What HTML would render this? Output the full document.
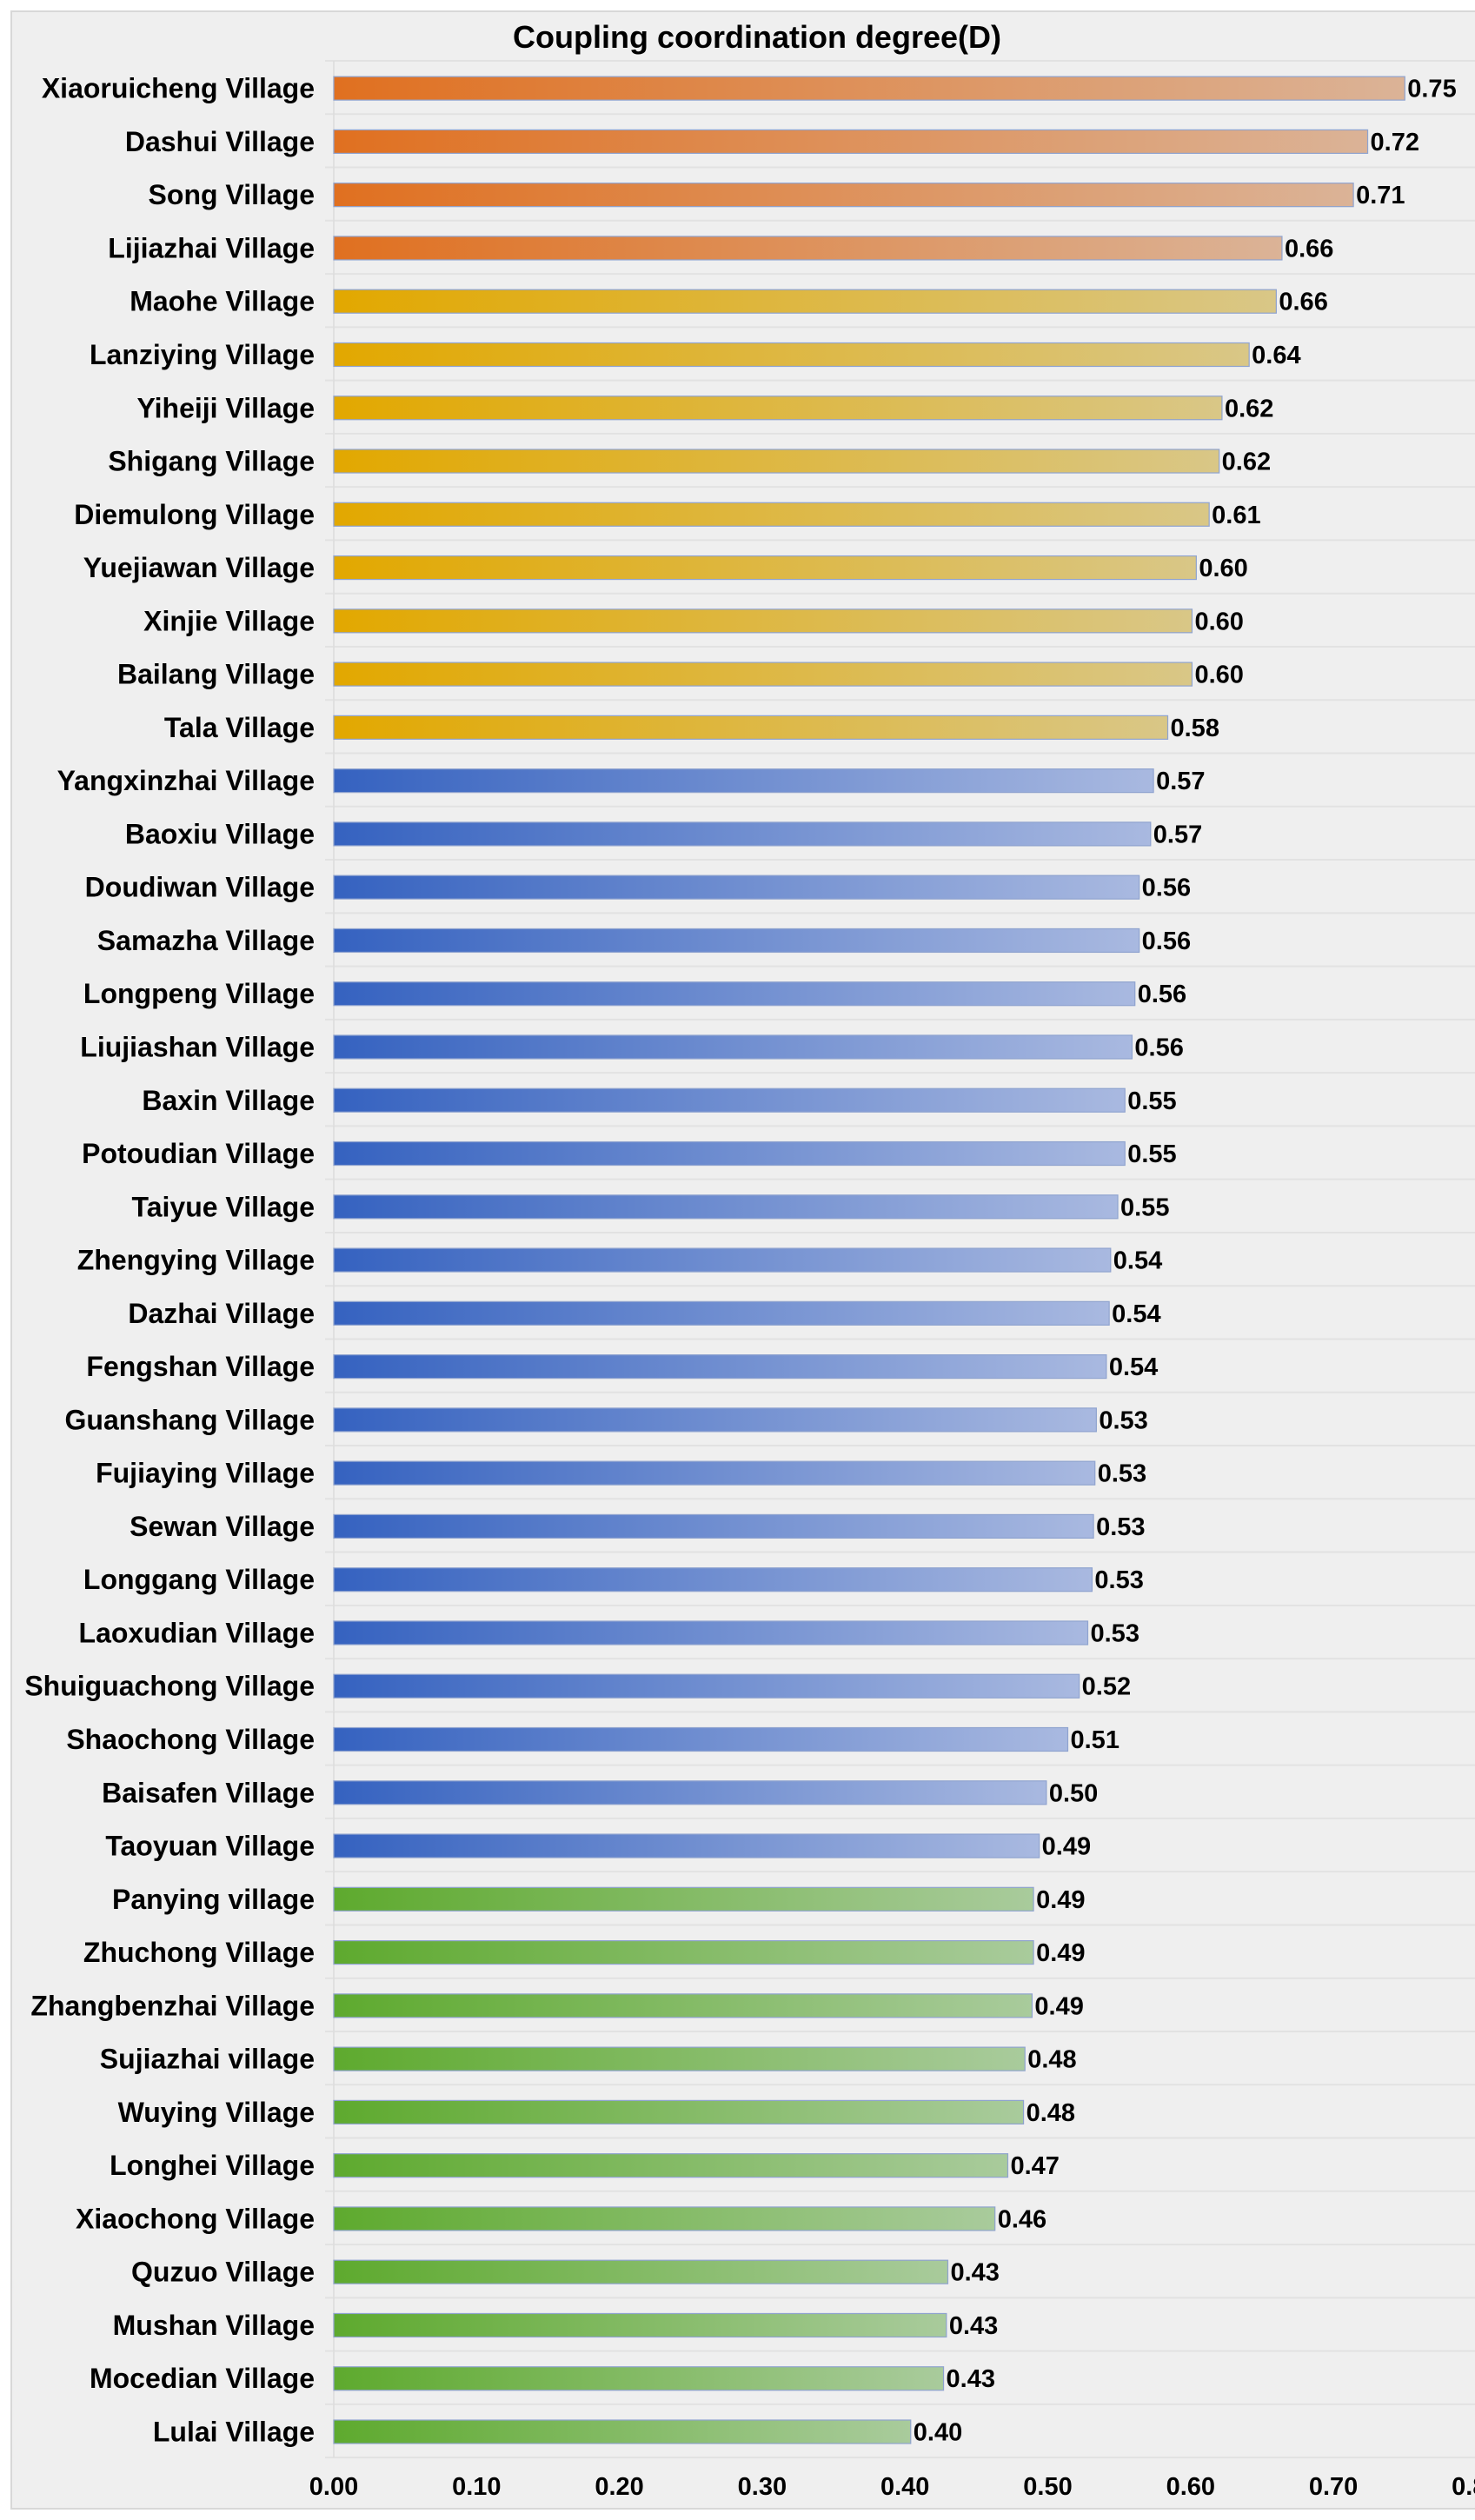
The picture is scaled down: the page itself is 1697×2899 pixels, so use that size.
<!DOCTYPE html>
<html><head><meta charset="utf-8"><style>
html,body{margin:0;padding:0;background:#fff;}
svg{display:block;font-family:"Liberation Sans",sans-serif;}
</style></head><body>
<svg id="chart" width="1697" height="2899" viewBox="0 0 1697 2899">
<defs>
<linearGradient id="g-orange" x1="0" x2="1" y1="0" y2="0"><stop offset="0" stop-color="#E07020"/><stop offset="1" stop-color="#DBB397"/></linearGradient>
<linearGradient id="g-gold" x1="0" x2="1" y1="0" y2="0"><stop offset="0" stop-color="#E2A800"/><stop offset="1" stop-color="#D9C787"/></linearGradient>
<linearGradient id="g-blue" x1="0" x2="1" y1="0" y2="0"><stop offset="0" stop-color="#3562C0"/><stop offset="1" stop-color="#A9B9E0"/></linearGradient>
<linearGradient id="g-green" x1="0" x2="1" y1="0" y2="0"><stop offset="0" stop-color="#5EAA2E"/><stop offset="1" stop-color="#A9CB9C"/></linearGradient>
</defs>
<rect x="13" y="13" width="1690" height="2873" fill="#efefef" stroke="#d8d8d8" stroke-width="2"/>
<text x="871" y="55" text-anchor="middle" font-size="36" font-weight="bold" fill="#000">Coupling coordination degree(D)</text>
<g id="grid"></g><g id="bars"></g><g id="labels"></g><g id="axis"></g>
</svg>
<script>
const villages = ["Xiaoruicheng Village","Dashui Village","Song Village","Lijiazhai Village","Maohe Village","Lanziying Village","Yiheiji Village","Shigang Village","Diemulong Village","Yuejiawan Village","Xinjie Village","Bailang Village","Tala Village","Yangxinzhai Village","Baoxiu Village","Doudiwan Village","Samazha Village","Longpeng Village","Liujiashan Village","Baxin Village","Potoudian Village","Taiyue Village","Zhengying Village","Dazhai Village","Fengshan Village","Guanshang Village","Fujiaying Village","Sewan Village","Longgang Village","Laoxudian Village","Shuiguachong Village","Shaochong Village","Baisafen Village","Taoyuan Village","Panying village","Zhuchong Village","Zhangbenzhai Village","Sujiazhai village","Wuying Village","Longhei Village","Xiaochong Village","Quzuo Village","Mushan Village","Mocedian Village","Lulai Village"];
const values = [0.750,0.724,0.714,0.664,0.660,0.641,0.622,0.620,0.613,0.604,0.601,0.601,0.584,0.574,0.572,0.564,0.564,0.561,0.559,0.554,0.554,0.549,0.544,0.543,0.541,0.534,0.533,0.532,0.531,0.528,0.522,0.514,0.499,0.494,0.490,0.490,0.489,0.484,0.483,0.472,0.463,0.430,0.429,0.427,0.404];
const groups = ["orange","orange","orange","orange","gold","gold","gold","gold","gold","gold","gold","gold","gold","blue","blue","blue","blue","blue","blue","blue","blue","blue","blue","blue","blue","blue","blue","blue","blue","blue","blue","blue","blue","blue","green","green","green","green","green","green","green","green","green","green","green"];
const ticks = [0,0.1,0.2,0.3,0.4,0.5,0.6,0.7,0.8];

const NS="http://www.w3.org/2000/svg";
const plotLeft=384, unit=1643, plotTop=70, rowH=61.27, barH=27;
const xScale = v => plotLeft + v*unit;
const yRow = i => plotTop + i*rowH;
function mk(tag, attrs, parent){const e=document.createElementNS(NS,tag);for(const k in attrs)e.setAttribute(k,attrs[k]);parent.appendChild(e);return e;}
const gGrid=document.getElementById('grid'), gBars=document.getElementById('bars'), gLab=document.getElementById('labels'), gAxis=document.getElementById('axis');
for(let i=0;i<=villages.length;i++){
  const l=mk('line',{x1:plotLeft-10,x2:1697,y1:yRow(i),y2:yRow(i),stroke:'#e2e2e2','stroke-width':2},gGrid);
  
  
}
const ax=mk('line',{x1:plotLeft,x2:plotLeft,y1:plotTop,y2:yRow(villages.length),stroke:'#dcdcdc','stroke-width':1.5},gGrid);


villages.forEach((name,i)=>{
  const cy=yRow(i)+rowH/2+1;
  const r=mk('rect',{x:plotLeft,y:cy-barH/2,width:xScale(values[i])-plotLeft,height:barH,fill:'url(#g-'+groups[i]+')',stroke:'#8fa3cf','stroke-width':1.2},gBars);
  
  
  const t=mk('text',{x:362,y:cy+11,'text-anchor':'end','font-size':32,'font-weight':'bold',fill:'#000'},gLab);
  t.textContent=name;
  
  
  const vt=mk('text',{x:xScale(values[i])+3,y:cy+10,'font-size':29,'font-weight':'bold',fill:'#000'},gLab);
  vt.textContent=values[i].toFixed(2);
  
  
});
ticks.forEach(t=>{
  const tt=mk('text',{x:xScale(t),y:2870,'text-anchor':'middle','font-size':29,'font-weight':'bold',fill:'#000'},gAxis);
  tt.textContent=t.toFixed(2);
  
  
});
</script>
</body></html>
